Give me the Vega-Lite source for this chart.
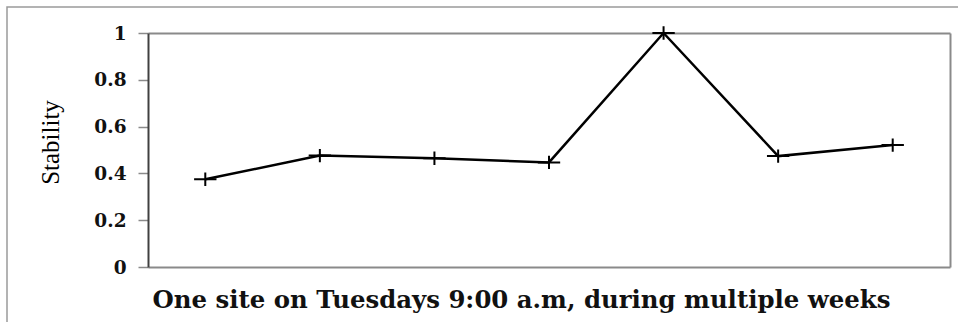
{
  "$schema": "https://vega.github.io/schema/vega-lite/v6.json",
  "autosize": "none",
  "width": 802,
  "height": 234,
  "padding": {"left": 148, "top": 33, "right": 8, "bottom": 55},
  "background": "white",
  "config": {"view": {"stroke": null}},
  "data": {"values": [
    {"week": "1", "stability": 0.375},
    {"week": "2", "stability": 0.476},
    {"week": "3", "stability": 0.465},
    {"week": "4", "stability": 0.447},
    {"week": "5", "stability": 1.0},
    {"week": "6", "stability": 0.474},
    {"week": "7", "stability": 0.521}
  ]},
  "layer": [
    {
      "encoding": {
        "x": {"field": "week", "type": "ordinal", "scale": {"type": "point", "padding": 0.5},
          "axis": {"orient": "bottom", "labels": false, "ticks": false, "domainColor": "#8a8a8a", "domainWidth": 2,
            "title": "One site on Tuesdays 9:00 a.m, during multiple weeks",
            "titleFont": "DejaVu Serif", "titleFontWeight": "bold", "titleFontSize": 24.4, "titleColor": "#111",
            "titleX": 4, "titleY": 40, "titleAlign": "left", "titleBaseline": "alphabetic", "titleAnchor": "start"}},
        "y": {"field": "stability", "type": "quantitative", "scale": {"domain": [0, 1], "nice": false},
          "axis": {"orient": "left", "values": [0, 0.2, 0.4, 0.6, 0.8, 1], "format": "~g", "grid": false,
            "domainColor": "#404040", "domainWidth": 2, "tickColor": "#8a8a8a", "tickSize": 10, "tickWidth": 1.5,
            "labelFont": "DejaVu Serif", "labelFontWeight": "bold", "labelFontSize": 18.5, "labelColor": "#111", "labelPadding": 12,
            "title": "Stability", "titleFont": "Liberation Serif", "titleFontWeight": "normal", "titleFontSize": 25, "titleColor": "#000",
            "titleAngle": 270, "titleX": -98, "titleY": 109, "titleAlign": "center", "titleBaseline": "middle"}}
      },
      "layer": [
        {"mark": {"type": "line", "color": "black", "strokeWidth": 2.5}},
        {"mark": {"type": "point", "shape": "M-1,0H1M0,-0.6V0.6", "size": 500, "stroke": "black", "strokeWidth": 2, "filled": false, "opacity": 1}}
      ]
    },
    {
      "mark": {"type": "point", "opacity": 0},
      "encoding": {
        "x": {"field": "week", "type": "ordinal", "scale": {"type": "point", "padding": 0.5},
          "axis": {"orient": "top", "labels": false, "ticks": false, "title": null, "domainColor": "#8a8a8a", "domainWidth": 2}},
        "y": {"field": "stability", "type": "quantitative", "scale": {"domain": [0, 1], "nice": false},
          "axis": {"orient": "right", "labels": false, "ticks": false, "grid": false, "title": null, "domainColor": "#8a8a8a", "domainWidth": 2}},
        "color": {"field": "stability", "type": "quantitative",
          "scale": {"range": ["rgba(255,255,255,0)", "rgba(255,255,255,0)"]},
          "legend": {"orient": "none", "legendX": -141, "legendY": -26, "direction": "horizontal", "title": null,
            "gradientLength": 970, "gradientThickness": 330, "gradientStrokeColor": "#9a9a9a", "gradientStrokeWidth": 1.5,
            "labelExpr": "''", "labelOpacity": 0, "padding": 0, "offset": 0}}
      }
    }
  ],
  "resolve": {"axis": {"x": "independent", "y": "independent"}}
}
